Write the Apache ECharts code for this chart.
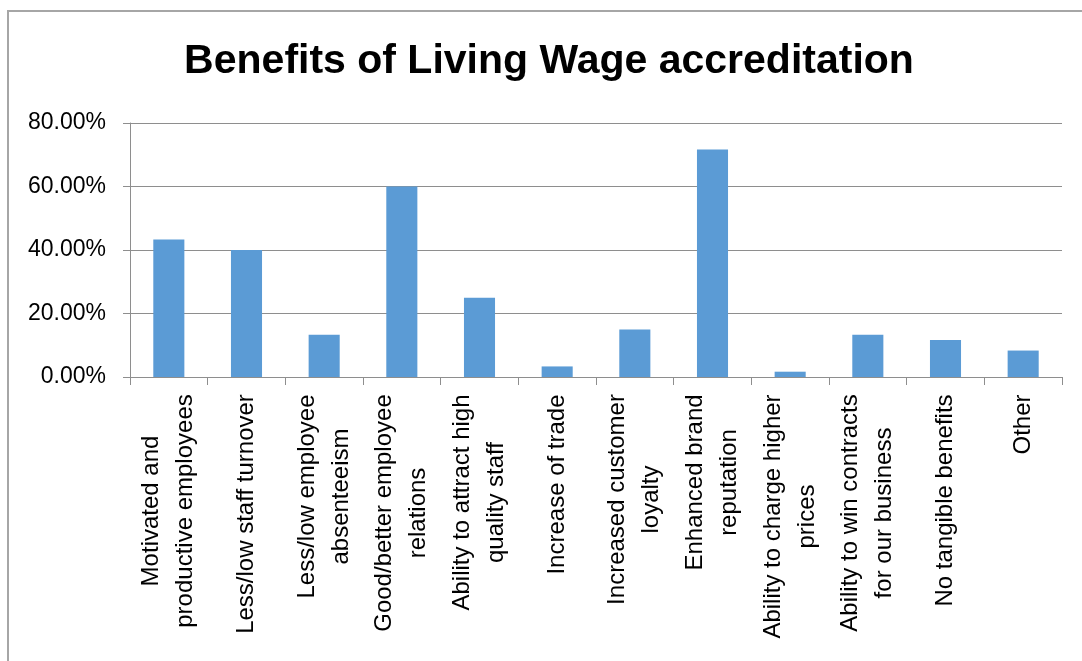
<!DOCTYPE html>
<html>
<head>
<meta charset="utf-8">
<script src="https://cdn.jsdelivr.net/npm/echarts@6/dist/echarts.min.js"></script>
<style>
  html, body { margin: 0; padding: 0; background: #fff; }
  #chart { width: 1082px; height: 661px; }
</style>
</head>
<body>
<div id="chart"></div>
<script>
// survey answers (share of respondents, %)
var categories = [
  'Motivated and\nproductive employees',
  'Less/low staff turnover',
  'Less/low employee\nabsenteeism',
  'Good/better employee\nrelations',
  'Ability to attract high\nquality staff',
  'Increase of trade',
  'Increased customer\nloyalty',
  'Enhanced brand\nreputation',
  'Ability to charge higher\nprices',
  'Ability to win contracts\nfor our business',
  'No tangible benefits',
  'Other'
];
var values = [43.33, 40.00, 13.33, 60.00, 25.00, 3.33, 15.00, 71.67, 1.67, 13.33, 11.67, 8.33];
var yTicks = [0, 20, 40, 60, 80];

var FONT = '"Liberation Sans", Arial, sans-serif';
var labelSize = 24;

// each label gets its own rich box so the lines centre on each other
var ctx = document.createElement('canvas').getContext('2d');
ctx.font = labelSize + 'px ' + FONT;
var rich = {};
categories.forEach(function (name, i) {
    var w = 0;
    name.split('\n').forEach(function (line) {
        w = Math.max(w, ctx.measureText(line).width);
    });
    rich['c' + i] = {
        width: Math.ceil(w),
        align: 'center',
        fontSize: labelSize,
        fontFamily: FONT,
        color: '#000',
        lineHeight: 34
    };
});

var myChart = echarts.init(document.getElementById('chart'));
var option = {
    backgroundColor: '#fff',
    animation: false,
    graphic: [
        {
            type: 'rect',
            shape: { x: 8, y: 11, width: 1200, height: 800 },
            style: { fill: 'none', stroke: '#a6a6a6', lineWidth: 2 },
            silent: true
        },
        {
            type: 'text',
            x: 549,
            y: 62,
            style: {
                text: 'Benefits of Living Wage accreditation',
                fontFamily: FONT,
                fontWeight: 'bold',
                fontSize: 41,
                fill: '#000',
                align: 'center',
                verticalAlign: 'middle'
            }
        }
    ],
    grid: { left: 130, right: 20, top: 123, bottom: 284 },
    xAxis: {
        type: 'category',
        data: categories,
        axisLine: { lineStyle: { color: '#8e8e8e', width: 1 } },
        axisTick: { show: true, length: 8, lineStyle: { color: '#8e8e8e' } },
        axisLabel: {
            interval: 0,
            rotate: 90,
            margin: 17,
            fontSize: labelSize,
            fontFamily: FONT,
            color: '#000',
            rich: rich,
            formatter: function (v, i) {
                return v.split('\n').map(function (s) {
                    return '{c' + i + '|' + s + '}';
                }).join('\n');
            }
        }
    },
    yAxis: {
        type: 'value',
        min: yTicks[0],
        max: yTicks[yTicks.length - 1],
        interval: 20,
        axisLine: { show: true, lineStyle: { color: '#8e8e8e', width: 1 } },
        axisTick: { show: true, length: 7, lineStyle: { color: '#8e8e8e' } },
        splitLine: { lineStyle: { color: '#8e8e8e', width: 1 } },
        axisLabel: {
            margin: 24,
            fontSize: 23,
            fontFamily: FONT,
            color: '#000',
            formatter: function (v) { return v.toFixed(2) + '%'; }
        }
    },
    series: [{
        type: 'bar',
        data: values,
        barWidth: '40%',
        itemStyle: { color: '#5b9bd5' }
    }]
};
myChart.setOption(option);
window.addEventListener('resize', function () {
    myChart.resize();
});
</script>
</body>
</html>
